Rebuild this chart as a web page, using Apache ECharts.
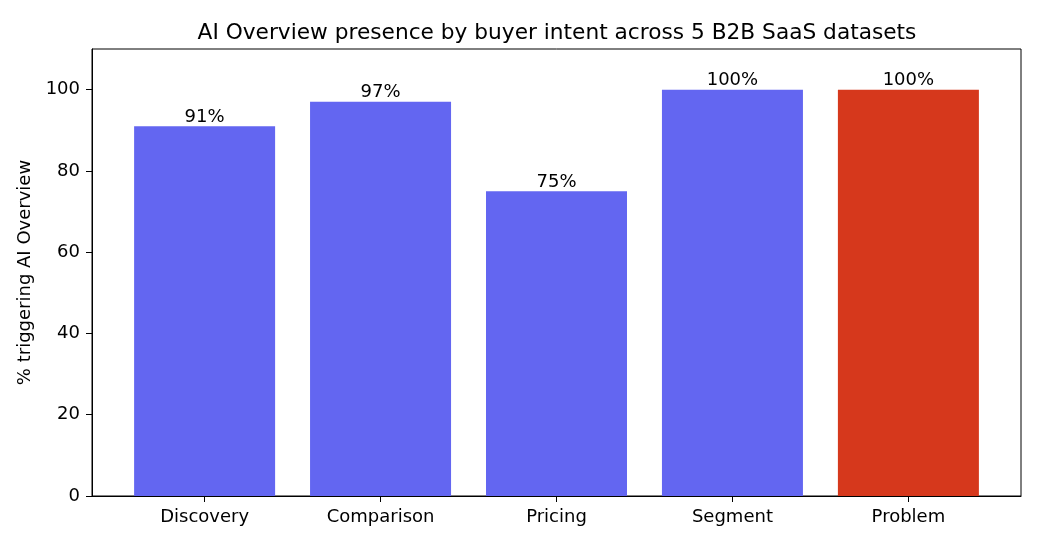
<!DOCTYPE html>
<html>
<head>
<meta charset="utf-8">
<script src="https://cdn.jsdelivr.net/npm/echarts@6/dist/echarts.min.js"></script>
<style>
html, body { margin: 0; padding: 0; background: #fff; }
#chart { width: 1040px; height: 546px; }
</style>
</head>
<body>
<div id="chart"></div>
<script>
// buyer intent categories and share of queries triggering an AI Overview (%)
var categories = ['Discovery', 'Comparison', 'Pricing', 'Segment', 'Problem'];
var values = [91, 97, 75, 100, 100];
var yTicks = [0, 20, 40, 60, 80, 100];
var highlighted = 'Problem';

var myChart = echarts.init(document.getElementById('chart'));
var font = 'DejaVu Sans';
var positions = categories.map(function (c, i) { return i; });

var option = {
	backgroundColor: '#ffffff',
	animation: false,
	title: {
		text: 'AI Overview presence by buyer intent across 5 B2B SaaS datasets',
		left: 552,
		textAlign: 'center',
		top: 17,
		textStyle: { fontFamily: font, fontSize: 21.7, fontWeight: 'normal', color: '#000' }
	},
	grid: {
		left: 92,
		right: 19,
		top: 49,
		bottom: 50,
		show: true,
		borderColor: '#000',
		borderWidth: 1
	},
	xAxis: {
		type: 'value',
		min: -0.64,
		max: 4.64,
		splitLine: { show: false },
		axisLine: { show: true, onZero: false, lineStyle: { color: '#000', width: 1 } },
		axisTick: { show: true, customValues: positions, length: 6, lineStyle: { color: '#000' } },
		axisLabel: {
			customValues: positions,
			margin: 12,
			fontFamily: font,
			fontSize: 18,
			color: '#000',
			formatter: function (v) { return categories[Math.round(v)]; }
		}
	},
	yAxis: {
		type: 'value',
		min: 0,
		max: 110,
		name: '% triggering AI Overview',
		nameLocation: 'middle',
		nameGap: 50,
		nameTextStyle: { fontFamily: font, fontSize: 18, color: '#000' },
		splitLine: { show: false },
		axisLine: { show: true, onZero: false, lineStyle: { color: '#000', width: 1 } },
		axisTick: { show: true, customValues: yTicks, length: 6, lineStyle: { color: '#000' } },
		axisLabel: {
			customValues: yTicks,
			margin: 12,
			fontFamily: font,
			fontSize: 18,
			color: '#000'
		}
	},
	series: [{
		type: 'bar',
		barWidth: 141,
		data: values.map(function (v, i) {
			return {
				value: [i, v],
				itemStyle: { color: categories[i] === highlighted ? '#d6381c' : '#6366f1' }
			};
		}),
		label: {
			show: true,
			position: 'top',
			distance: 0,
			fontFamily: font,
			fontSize: 18,
			color: '#000',
			formatter: function (p) { return p.value[1] + '%'; }
		}
	}]
};
myChart.setOption(option);
</script>
</body>
</html>
